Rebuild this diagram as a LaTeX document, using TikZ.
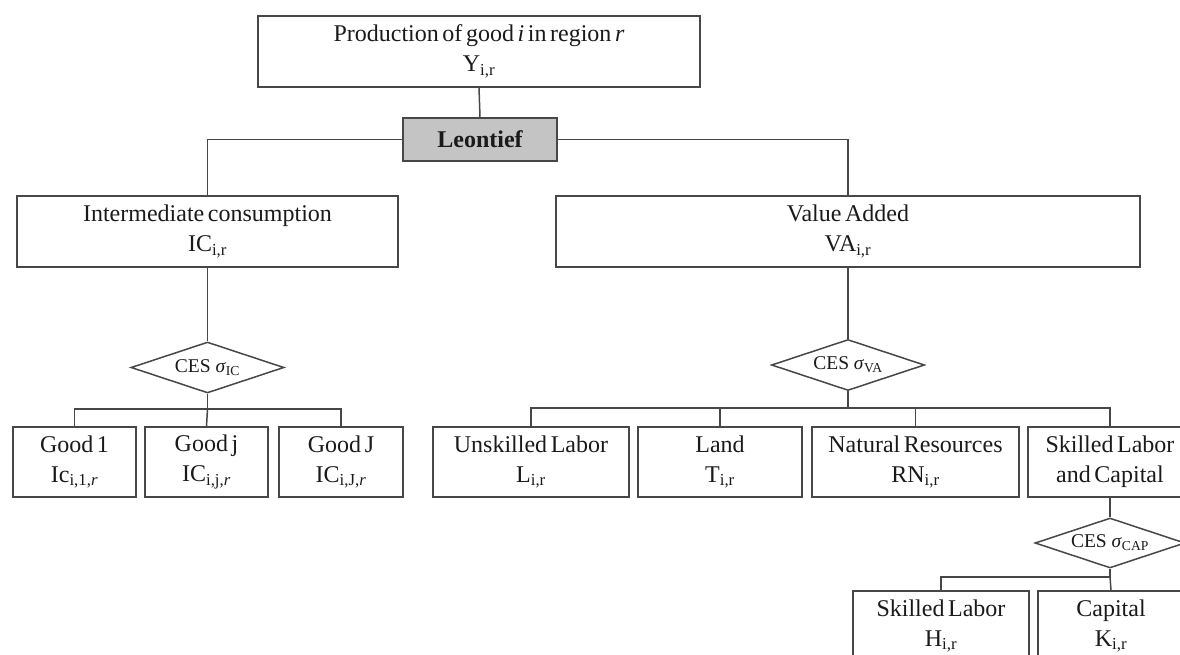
\documentclass[tikz,border=0pt]{standalone}
\usepackage{fontspec}
\setmainfont{Liberation Serif}
\usetikzlibrary{shapes.geometric}
\definecolor{linecol}{HTML}{474747}
\definecolor{leofill}{HTML}{C4C4C4}
\definecolor{txtcol}{HTML}{1A1A1A}
\newcommand{\mfont}{\fontsize{24}{30}\selectfont\spaceskip=0.15em plus 0.05em}
\newcommand{\cfont}{\fontsize{19.5}{22}\selectfont}
\begin{document}
\begin{tikzpicture}[x=1pt,y=-1pt,
  box/.style={draw=linecol, line width=1.5pt, rectangle, inner sep=0pt, align=center, font=\mfont, text=txtcol},
  dmd/.style={draw=linecol, line width=1.5pt, diamond, aspect=3, inner sep=0pt, minimum width=153pt, minimum height=51pt, font=\cfont, text=txtcol},
  conn/.style={draw=linecol, line width=1.5pt}
]
\useasboundingbox (0,0) rectangle (1180,655);
\clip (0,0) rectangle (1180,655);
% top
\node[box, minimum width=442pt, minimum height=71pt] (top) at (479,51.5)
  {Production of good \textit{i} in region \textit{r}\\Y\textsubscript{i,r}};
\node[box, fill=leofill, minimum width=154pt, minimum height=43pt, font=\mfont\bfseries] (leo) at (480,139.5) {Leontief};
% second level
\node[box, minimum width=381pt, minimum height=71pt] (ic) at (207.5,231.5)
  {Intermediate consumption\\IC\textsubscript{i,r}};
\node[box, minimum width=584pt, minimum height=71pt] (va) at (848,231.5)
  {Value Added\\VA\textsubscript{i,r}};
% diamonds
\node[dmd] (dic) at (207.5,367.5) {CES \textit{σ}\textsubscript{IC}};
\node[dmd] (dva) at (848,365) {CES \textit{σ}\textsubscript{VA}};
% goods
\node[box, minimum width=123pt, minimum height=70pt] (g1) at (74.5,462) {Good 1\\Ic\textsubscript{i,1,\textit{r}}};
\node[box, minimum width=123pt, minimum height=70pt] (gj) at (206.5,462) {Good j\\IC\textsubscript{i,j,\textit{r}}};
\node[box, minimum width=124pt, minimum height=70pt] (gJ) at (341,462) {Good J\\IC\textsubscript{i,J,\textit{r}}};
% factors
\node[box, minimum width=196pt, minimum height=70pt] (ul) at (531,462) {Unskilled Labor\\L\textsubscript{i,r}};
\node[box, minimum width=164pt, minimum height=70pt] (land) at (720,462) {Land\\T\textsubscript{i,r}};
\node[box, minimum width=207pt, minimum height=70pt] (nr) at (915.5,462) {Natural Resources\\RN\textsubscript{i,r}};
\node[box, minimum width=164pt, minimum height=70pt] (sk) at (1110,462) {Skilled Labor\\and Capital};
% CAP
\node[dmd, minimum width=150pt, minimum height=50pt] (dcap) at (1110,543) {CES \textit{σ}\textsubscript{CAP}};
\node[box, minimum width=176pt, minimum height=70pt] (h) at (941,626) {Skilled Labor\\H\textsubscript{i,r}};
\node[box, minimum width=146pt, minimum height=70pt] (k) at (1111,626) {Capital\\K\textsubscript{i,r}};
% junction coordinates
\coordinate (bic) at (207.5,409);
\coordinate (bva) at (848,408);
\coordinate (bcap) at (1110,577);
% connectors
\draw[conn] (top.south) -- (leo.north);
\draw[conn] (leo.west) -| (ic.north);
\draw[conn] (leo.east) -| (va.north);
\draw[conn] (ic.south) -- (dic.north);
\draw[conn] (va.south) -- (dva.north);
\draw[conn] (dic.south) -- (bic);
\draw[conn] (bic) -| (g1.north);
\draw[conn] (bic) -| (gJ.north);
\draw[conn] (bic) -- (gj.north);
\draw[conn] (dva.south) -- (bva);
\draw[conn] (bva) -| (ul.north);
\draw[conn] (bva) -| (land.north);
\draw[conn] (bva) -| (nr.north);
\draw[conn] (bva) -| (sk.north);
\draw[conn] (sk.south) -- (dcap.north);
\draw[conn] (dcap.south) -- (bcap);
\draw[conn] (bcap) -| (h.north);
\draw[conn] (bcap) -- (k.north);
\end{tikzpicture}
\end{document}
